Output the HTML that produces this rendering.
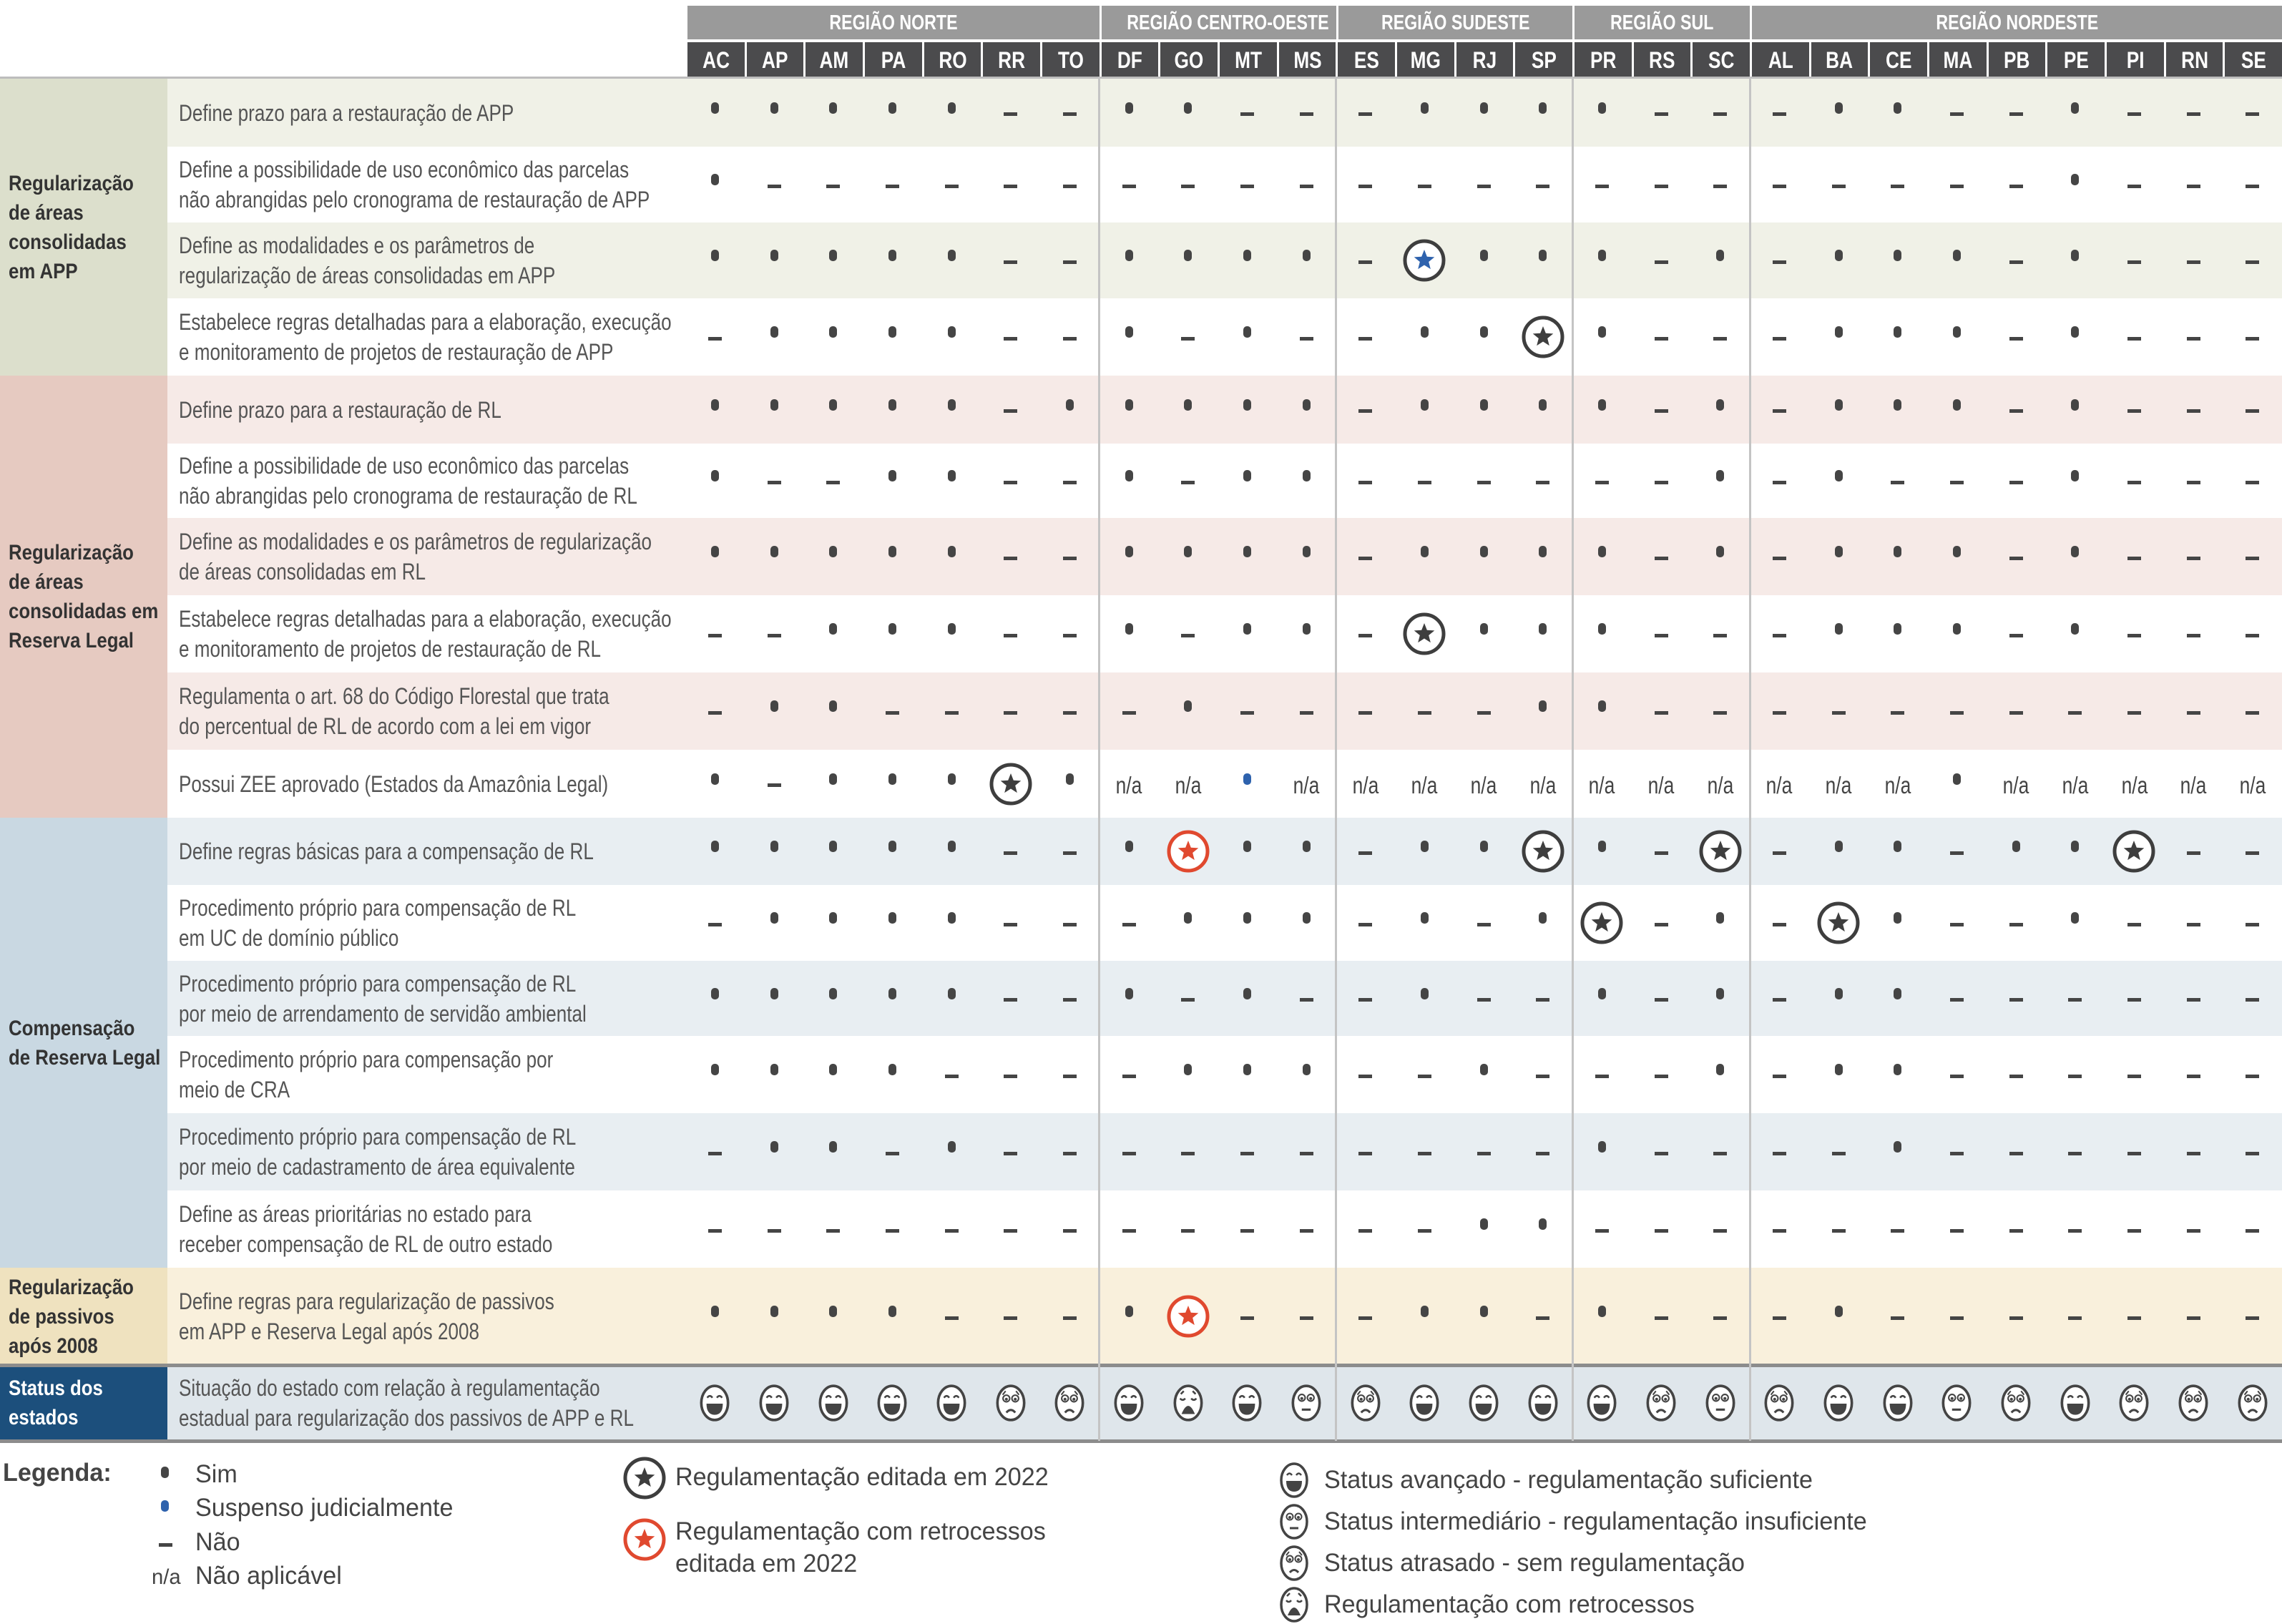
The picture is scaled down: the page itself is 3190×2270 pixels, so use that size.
<!DOCTYPE html>
<html><head><meta charset="utf-8"><style>
body{margin:0;width:3190px;height:2270px;position:relative;background:#fff;font-family:"Liberation Sans",sans-serif;overflow:hidden;color:#444}
.rg{position:absolute;top:8px;height:47px;background:#9a9a9a;color:#fff;font-weight:bold;font-size:29px;line-height:48px;text-align:center;border-left:3px solid #fff;box-sizing:border-box;white-space:nowrap}
.rg span{display:inline-block;transform:scaleX(.8)}
.sts{position:absolute;top:59px;height:49px;left:958px;right:0;display:flex}
.sts b{flex:1;background:#4b4b4d;color:#fff;font-size:32px;line-height:50px;text-align:center;border-left:3px solid #fff}
.sts b span{display:inline-block;transform:scaleX(.82)}
.row{position:absolute;left:234px;right:0}
.desc{position:absolute;left:16px;top:0;bottom:0;display:flex;align-items:center;font-size:32px;line-height:42px;color:#555;white-space:nowrap}
.desc span{display:block;transform:scaleX(.815);transform-origin:left center}
.c{position:absolute;left:724px;right:0;top:0;bottom:0;display:flex}
.c i{flex:1;display:flex;align-items:center;justify-content:center;font-style:normal}
.d::after{content:"";width:11px;height:16px;border-radius:5px;background:#454545;margin-top:-14px}
.m::after{content:"";width:19px;height:5px;background:#454545;margin-top:4px}
.u::after{background:#2e62ad}
.n{font-size:33px;color:#444;padding-top:4px}
.n span{display:inline-block;transform:scaleX(.8)}
svg.st{width:64px;height:64px}
svg.f{width:46px;height:56px}
.lab{position:absolute;left:0;width:234px;display:flex;align-items:center;font-weight:bold;font-size:30px;line-height:41px;color:#333;white-space:nowrap}
.lab span{display:block;transform:scaleX(.86);transform-origin:left center;margin-left:12px}
.vl{position:absolute;top:108px;height:1906px;width:3px;background:#c4c4c4}
.lg{position:absolute;font-size:35px;color:#444;white-space:nowrap;line-height:45px}
.lg span{display:inline-block;transform:scaleX(.975);transform-origin:left center}
</style></head><body>
<svg width="0" height="0" style="position:absolute">
<defs>
<g id="sd"><circle r="27" fill="#fff" stroke="#3e3e3e" stroke-width="5"/><path d="M0,-15 L3.82,-5.26 14.27,-4.64 6.18,2.01 8.82,12.14 0,6.5 -8.82,12.14 -6.18,2.01 -14.27,-4.64 -3.82,-5.26Z" fill="#3e3e3e"/></g>
<g id="sb"><circle r="27" fill="#fff" stroke="#3e3e3e" stroke-width="5"/><path d="M0,-15 L3.82,-5.26 14.27,-4.64 6.18,2.01 8.82,12.14 0,6.5 -8.82,12.14 -6.18,2.01 -14.27,-4.64 -3.82,-5.26Z" fill="#2e62ad"/></g>
<g id="sr"><circle r="27" fill="#fff" stroke="#e0492f" stroke-width="5"/><path d="M0,-15 L3.82,-5.26 14.27,-4.64 6.18,2.01 8.82,12.14 0,6.5 -8.82,12.14 -6.18,2.01 -14.27,-4.64 -3.82,-5.26Z" fill="#e0492f"/></g>
<g id="fa"><ellipse rx="18" ry="23" fill="#fff" stroke="#444" stroke-width="3.5"/><path d="M-10,-7 q3.5,-5 7,0 M3,-7 q3.5,-5 7,0" stroke="#444" stroke-width="2.5" fill="none"/><path d="M-11,1 h22 q0,15 -11,15 q-11,0 -11,-15z" fill="#444"/></g>
<g id="fi"><ellipse rx="18" ry="23" fill="#fff" stroke="#444" stroke-width="3.5"/><circle cx="-6" cy="-7" r="4.5" stroke="#444" stroke-width="2" fill="none"/><circle cx="6" cy="-7" r="4.5" stroke="#444" stroke-width="2" fill="none"/><circle cx="-6" cy="-6" r="2" fill="#444"/><circle cx="6" cy="-6" r="2" fill="#444"/><path d="M-6,9 h12" stroke="#444" stroke-width="3"/></g>
<g id="ft"><ellipse rx="18" ry="23" fill="#fff" stroke="#444" stroke-width="3.5"/><circle cx="-6" cy="-6" r="4.5" stroke="#444" stroke-width="2" fill="none"/><circle cx="6" cy="-6" r="4.5" stroke="#444" stroke-width="2" fill="none"/><circle cx="-6" cy="-5" r="2" fill="#444"/><circle cx="6" cy="-5" r="2" fill="#444"/><path d="M-11,-11 l4,-5 M11,-11 l-4,-5" stroke="#444" stroke-width="2"/><path d="M-6,13 q6,-7 12,0" stroke="#444" stroke-width="3" fill="none"/></g>
<g id="fr"><ellipse rx="18" ry="23" fill="#fff" stroke="#444" stroke-width="3.5"/><path d="M-11,-6 q3.5,4 7,0 M4,-6 q3.5,4 7,0 M-10,-12 l4,-4 M10,-12 l-4,-4" stroke="#444" stroke-width="2.5" fill="none"/><path d="M-9,15 q9,-22 18,0z" fill="#444"/></g>
</defs></svg>

<div class="rg" style="left:958px;width:579px"><span>REGIÃO NORTE</span></div>
<div class="rg" style="left:1537px;width:331px"><span>REGIÃO CENTRO-OESTE</span></div>
<div class="rg" style="left:1868px;width:330px"><span>REGIÃO SUDESTE</span></div>
<div class="rg" style="left:2198px;width:248px"><span>REGIÃO SUL</span></div>
<div class="rg" style="left:2446px;width:744px"><span>REGIÃO NORDESTE</span></div>
<div class="sts"><b><span>AC</span></b><b><span>AP</span></b><b><span>AM</span></b><b><span>PA</span></b><b><span>RO</span></b><b><span>RR</span></b><b><span>TO</span></b><b><span>DF</span></b><b><span>GO</span></b><b><span>MT</span></b><b><span>MS</span></b><b><span>ES</span></b><b><span>MG</span></b><b><span>RJ</span></b><b><span>SP</span></b><b><span>PR</span></b><b><span>RS</span></b><b><span>SC</span></b><b><span>AL</span></b><b><span>BA</span></b><b><span>CE</span></b><b><span>MA</span></b><b><span>PB</span></b><b><span>PE</span></b><b><span>PI</span></b><b><span>RN</span></b><b><span>SE</span></b></div>
<div style="position:absolute;left:0;right:0;top:107px;height:3px;background:#bdbdbd"></div>

<div class="lab" style="top:110px;height:415px;background:#dcdfcc"><span>Regularização<br>de áreas<br>consolidadas<br>em APP</span></div>
<div class="lab" style="top:525px;height:618px;background:#e6cac1"><span>Regularização<br>de áreas<br>consolidadas em<br>Reserva Legal</span></div>
<div class="lab" style="top:1143px;height:629px;background:#c9d8e2"><span>Compensação<br>de Reserva Legal</span></div>
<div class="lab" style="top:1772px;height:136px;background:#efe2bf"><span>Regularização<br>de passivos<br>após 2008</span></div>
<div class="lab" style="top:1908px;height:106px;background:#1c4f7c;color:#fff"><span>Status dos<br>estados</span></div>

<div class="row" style="top:110px;height:95px;background:#f0f1e7"><div class="desc"><span>Define prazo para a restauração de APP</span></div><div class="c"><i class=d></i><i class=d></i><i class=d></i><i class=d></i><i class=d></i><i class=m></i><i class=m></i><i class=d></i><i class=d></i><i class=m></i><i class=m></i><i class=m></i><i class=d></i><i class=d></i><i class=d></i><i class=d></i><i class=m></i><i class=m></i><i class=m></i><i class=d></i><i class=d></i><i class=m></i><i class=m></i><i class=d></i><i class=m></i><i class=m></i><i class=m></i></div></div>
<div class="row" style="top:205px;height:106px"><div class="desc"><span>Define a possibilidade de uso econômico das parcelas<br>não abrangidas pelo cronograma de restauração de APP</span></div><div class="c"><i class=d></i><i class=m></i><i class=m></i><i class=m></i><i class=m></i><i class=m></i><i class=m></i><i class=m></i><i class=m></i><i class=m></i><i class=m></i><i class=m></i><i class=m></i><i class=m></i><i class=m></i><i class=m></i><i class=m></i><i class=m></i><i class=m></i><i class=m></i><i class=m></i><i class=m></i><i class=m></i><i class=d></i><i class=m></i><i class=m></i><i class=m></i></div></div>
<div class="row" style="top:311px;height:106px;background:#f0f1e7"><div class="desc"><span>Define as modalidades e os parâmetros de<br>regularização de áreas consolidadas em APP</span></div><div class="c"><i class=d></i><i class=d></i><i class=d></i><i class=d></i><i class=d></i><i class=m></i><i class=m></i><i class=d></i><i class=d></i><i class=d></i><i class=d></i><i class=m></i><i><svg class=st viewBox="-32 -32 64 64"><use href="#sb"/></svg></i><i class=d></i><i class=d></i><i class=d></i><i class=m></i><i class=d></i><i class=m></i><i class=d></i><i class=d></i><i class=d></i><i class=m></i><i class=d></i><i class=m></i><i class=m></i><i class=m></i></div></div>
<div class="row" style="top:417px;height:108px"><div class="desc"><span>Estabelece regras detalhadas para a elaboração, execução<br>e monitoramento de projetos de restauração de APP</span></div><div class="c"><i class=m></i><i class=d></i><i class=d></i><i class=d></i><i class=d></i><i class=m></i><i class=m></i><i class=d></i><i class=m></i><i class=d></i><i class=m></i><i class=m></i><i class=d></i><i class=d></i><i><svg class=st viewBox="-32 -32 64 64"><use href="#sd"/></svg></i><i class=d></i><i class=m></i><i class=m></i><i class=m></i><i class=d></i><i class=d></i><i class=d></i><i class=m></i><i class=d></i><i class=m></i><i class=m></i><i class=m></i></div></div>

<div class="row" style="top:525px;height:95px;background:#f6eae7"><div class="desc"><span>Define prazo para a restauração de RL</span></div><div class="c"><i class=d></i><i class=d></i><i class=d></i><i class=d></i><i class=d></i><i class=m></i><i class=d></i><i class=d></i><i class=d></i><i class=d></i><i class=d></i><i class=m></i><i class=d></i><i class=d></i><i class=d></i><i class=d></i><i class=m></i><i class=d></i><i class=m></i><i class=d></i><i class=d></i><i class=d></i><i class=m></i><i class=d></i><i class=m></i><i class=m></i><i class=m></i></div></div>
<div class="row" style="top:620px;height:104px"><div class="desc"><span>Define a possibilidade de uso econômico das parcelas<br>não abrangidas pelo cronograma de restauração de RL</span></div><div class="c"><i class=d></i><i class=m></i><i class=m></i><i class=d></i><i class=d></i><i class=m></i><i class=m></i><i class=d></i><i class=m></i><i class=d></i><i class=d></i><i class=m></i><i class=m></i><i class=m></i><i class=m></i><i class=m></i><i class=m></i><i class=d></i><i class=m></i><i class=d></i><i class=m></i><i class=m></i><i class=m></i><i class=d></i><i class=m></i><i class=m></i><i class=m></i></div></div>
<div class="row" style="top:724px;height:108px;background:#f6eae7"><div class="desc"><span>Define as modalidades e os parâmetros de regularização<br>de áreas consolidadas em RL</span></div><div class="c"><i class=d></i><i class=d></i><i class=d></i><i class=d></i><i class=d></i><i class=m></i><i class=m></i><i class=d></i><i class=d></i><i class=d></i><i class=d></i><i class=m></i><i class=d></i><i class=d></i><i class=d></i><i class=d></i><i class=m></i><i class=d></i><i class=m></i><i class=d></i><i class=d></i><i class=d></i><i class=m></i><i class=d></i><i class=m></i><i class=m></i><i class=m></i></div></div>
<div class="row" style="top:832px;height:108px"><div class="desc"><span>Estabelece regras detalhadas para a elaboração, execução<br>e monitoramento de projetos de restauração de RL</span></div><div class="c"><i class=m></i><i class=m></i><i class=d></i><i class=d></i><i class=d></i><i class=m></i><i class=m></i><i class=d></i><i class=m></i><i class=d></i><i class=d></i><i class=m></i><i><svg class=st viewBox="-32 -32 64 64"><use href="#sd"/></svg></i><i class=d></i><i class=d></i><i class=d></i><i class=m></i><i class=m></i><i class=m></i><i class=d></i><i class=d></i><i class=d></i><i class=m></i><i class=d></i><i class=m></i><i class=m></i><i class=m></i></div></div>
<div class="row" style="top:940px;height:108px;background:#f6eae7"><div class="desc"><span>Regulamenta o art. 68 do Código Florestal que trata<br>do percentual de RL de acordo com a lei em vigor</span></div><div class="c"><i class=m></i><i class=d></i><i class=d></i><i class=m></i><i class=m></i><i class=m></i><i class=m></i><i class=m></i><i class=d></i><i class=m></i><i class=m></i><i class=m></i><i class=m></i><i class=m></i><i class=d></i><i class=d></i><i class=m></i><i class=m></i><i class=m></i><i class=m></i><i class=m></i><i class=m></i><i class=m></i><i class=m></i><i class=m></i><i class=m></i><i class=m></i></div></div>
<div class="row" style="top:1048px;height:95px"><div class="desc"><span>Possui ZEE aprovado (Estados da Amazônia Legal)</span></div><div class="c"><i class=d></i><i class=m></i><i class=d></i><i class=d></i><i class=d></i><i><svg class=st viewBox="-32 -32 64 64"><use href="#sd"/></svg></i><i class=d></i><i class=n><span>n/a</span></i><i class=n><span>n/a</span></i><i class="d u"></i><i class=n><span>n/a</span></i><i class=n><span>n/a</span></i><i class=n><span>n/a</span></i><i class=n><span>n/a</span></i><i class=n><span>n/a</span></i><i class=n><span>n/a</span></i><i class=n><span>n/a</span></i><i class=n><span>n/a</span></i><i class=n><span>n/a</span></i><i class=n><span>n/a</span></i><i class=n><span>n/a</span></i><i class=d></i><i class=n><span>n/a</span></i><i class=n><span>n/a</span></i><i class=n><span>n/a</span></i><i class=n><span>n/a</span></i><i class=n><span>n/a</span></i></div></div>

<div class="row" style="top:1143px;height:94px;background:#e8eef2"><div class="desc"><span>Define regras básicas para a compensação de RL</span></div><div class="c"><i class=d></i><i class=d></i><i class=d></i><i class=d></i><i class=d></i><i class=m></i><i class=m></i><i class=d></i><i><svg class=st viewBox="-32 -32 64 64"><use href="#sr"/></svg></i><i class=d></i><i class=d></i><i class=m></i><i class=d></i><i class=d></i><i><svg class=st viewBox="-32 -32 64 64"><use href="#sd"/></svg></i><i class=d></i><i class=m></i><i><svg class=st viewBox="-32 -32 64 64"><use href="#sd"/></svg></i><i class=m></i><i class=d></i><i class=d></i><i class=m></i><i class=d></i><i class=d></i><i><svg class=st viewBox="-32 -32 64 64"><use href="#sd"/></svg></i><i class=m></i><i class=m></i></div></div>
<div class="row" style="top:1237px;height:106px"><div class="desc"><span>Procedimento próprio para compensação de RL<br>em UC de domínio público</span></div><div class="c"><i class=m></i><i class=d></i><i class=d></i><i class=d></i><i class=d></i><i class=m></i><i class=m></i><i class=m></i><i class=d></i><i class=d></i><i class=d></i><i class=m></i><i class=d></i><i class=m></i><i class=d></i><i><svg class=st viewBox="-32 -32 64 64"><use href="#sd"/></svg></i><i class=m></i><i class=d></i><i class=m></i><i><svg class=st viewBox="-32 -32 64 64"><use href="#sd"/></svg></i><i class=d></i><i class=m></i><i class=m></i><i class=d></i><i class=m></i><i class=m></i><i class=m></i></div></div>
<div class="row" style="top:1343px;height:105px;background:#e8eef2"><div class="desc"><span>Procedimento próprio para compensação de RL<br>por meio de arrendamento de servidão ambiental</span></div><div class="c"><i class=d></i><i class=d></i><i class=d></i><i class=d></i><i class=d></i><i class=m></i><i class=m></i><i class=d></i><i class=m></i><i class=d></i><i class=m></i><i class=m></i><i class=d></i><i class=m></i><i class=m></i><i class=d></i><i class=m></i><i class=d></i><i class=m></i><i class=d></i><i class=d></i><i class=m></i><i class=m></i><i class=m></i><i class=m></i><i class=m></i><i class=m></i></div></div>
<div class="row" style="top:1448px;height:108px"><div class="desc"><span>Procedimento próprio para compensação por<br>meio de CRA</span></div><div class="c"><i class=d></i><i class=d></i><i class=d></i><i class=d></i><i class=m></i><i class=m></i><i class=m></i><i class=m></i><i class=d></i><i class=d></i><i class=d></i><i class=m></i><i class=m></i><i class=d></i><i class=m></i><i class=m></i><i class=m></i><i class=d></i><i class=m></i><i class=d></i><i class=d></i><i class=m></i><i class=m></i><i class=m></i><i class=m></i><i class=m></i><i class=m></i></div></div>
<div class="row" style="top:1556px;height:108px;background:#e8eef2"><div class="desc"><span>Procedimento próprio para compensação de RL<br>por meio de cadastramento de área equivalente</span></div><div class="c"><i class=m></i><i class=d></i><i class=d></i><i class=m></i><i class=d></i><i class=m></i><i class=m></i><i class=m></i><i class=m></i><i class=m></i><i class=m></i><i class=m></i><i class=m></i><i class=m></i><i class=m></i><i class=d></i><i class=m></i><i class=m></i><i class=m></i><i class=m></i><i class=d></i><i class=m></i><i class=m></i><i class=m></i><i class=m></i><i class=m></i><i class=m></i></div></div>
<div class="row" style="top:1664px;height:108px"><div class="desc"><span>Define as áreas prioritárias no estado para<br>receber compensação de RL de outro estado</span></div><div class="c"><i class=m></i><i class=m></i><i class=m></i><i class=m></i><i class=m></i><i class=m></i><i class=m></i><i class=m></i><i class=m></i><i class=m></i><i class=m></i><i class=m></i><i class=m></i><i class=d></i><i class=d></i><i class=m></i><i class=m></i><i class=m></i><i class=m></i><i class=m></i><i class=m></i><i class=m></i><i class=m></i><i class=m></i><i class=m></i><i class=m></i><i class=m></i></div></div>

<div class="row" style="top:1772px;height:136px;background:#f9f0dc"><div class="desc"><span>Define regras para regularização de passivos<br>em APP e Reserva Legal após 2008</span></div><div class="c"><i class=d></i><i class=d></i><i class=d></i><i class=d></i><i class=m></i><i class=m></i><i class=m></i><i class=d></i><i><svg class=st viewBox="-32 -32 64 64"><use href="#sr"/></svg></i><i class=m></i><i class=m></i><i class=m></i><i class=d></i><i class=d></i><i class=m></i><i class=d></i><i class=m></i><i class=m></i><i class=m></i><i class=d></i><i class=m></i><i class=m></i><i class=m></i><i class=m></i><i class=m></i><i class=m></i><i class=m></i></div></div>

<div class="row" style="top:1908px;height:106px;background:#dfe6eb"><div class="desc"><span>Situação do estado com relação à regulamentação<br>estadual para regularização dos passivos de APP e RL</span></div><div class="c">
<i><svg class=f viewBox="-22 -27 44 54"><use href="#fa"/></svg></i><i><svg class=f viewBox="-22 -27 44 54"><use href="#fa"/></svg></i><i><svg class=f viewBox="-22 -27 44 54"><use href="#fa"/></svg></i><i><svg class=f viewBox="-22 -27 44 54"><use href="#fa"/></svg></i><i><svg class=f viewBox="-22 -27 44 54"><use href="#fa"/></svg></i><i><svg class=f viewBox="-22 -27 44 54"><use href="#ft"/></svg></i><i><svg class=f viewBox="-22 -27 44 54"><use href="#ft"/></svg></i>
<i><svg class=f viewBox="-22 -27 44 54"><use href="#fa"/></svg></i><i><svg class=f viewBox="-22 -27 44 54"><use href="#fr"/></svg></i><i><svg class=f viewBox="-22 -27 44 54"><use href="#fa"/></svg></i><i><svg class=f viewBox="-22 -27 44 54"><use href="#fi"/></svg></i>
<i><svg class=f viewBox="-22 -27 44 54"><use href="#ft"/></svg></i><i><svg class=f viewBox="-22 -27 44 54"><use href="#fa"/></svg></i><i><svg class=f viewBox="-22 -27 44 54"><use href="#fa"/></svg></i><i><svg class=f viewBox="-22 -27 44 54"><use href="#fa"/></svg></i>
<i><svg class=f viewBox="-22 -27 44 54"><use href="#fa"/></svg></i><i><svg class=f viewBox="-22 -27 44 54"><use href="#ft"/></svg></i><i><svg class=f viewBox="-22 -27 44 54"><use href="#fi"/></svg></i>
<i><svg class=f viewBox="-22 -27 44 54"><use href="#ft"/></svg></i><i><svg class=f viewBox="-22 -27 44 54"><use href="#fa"/></svg></i><i><svg class=f viewBox="-22 -27 44 54"><use href="#fa"/></svg></i><i><svg class=f viewBox="-22 -27 44 54"><use href="#fi"/></svg></i><i><svg class=f viewBox="-22 -27 44 54"><use href="#ft"/></svg></i><i><svg class=f viewBox="-22 -27 44 54"><use href="#fa"/></svg></i><i><svg class=f viewBox="-22 -27 44 54"><use href="#ft"/></svg></i><i><svg class=f viewBox="-22 -27 44 54"><use href="#ft"/></svg></i><i><svg class=f viewBox="-22 -27 44 54"><use href="#ft"/></svg></i>
</div></div>
<div style="position:absolute;left:0;right:0;top:1906px;height:5px;background:#8c8c8c"></div>
<div style="position:absolute;left:0;right:0;top:2012px;height:5px;background:#8c8c8c"></div>

<div class="vl" style="left:1535px"></div>
<div class="vl" style="left:1866px"></div>
<div class="vl" style="left:2197px"></div>
<div class="vl" style="left:2445px"></div>

<div class="lg" style="left:4px;top:2036px;font-weight:bold"><span>Legenda:</span></div>
<div style="position:absolute;left:225px;top:2050px;width:11px;height:16px;border-radius:5px;background:#454545"></div>
<div class="lg" style="left:273px;top:2038px"><span>Sim</span></div>
<div style="position:absolute;left:225px;top:2097px;width:11px;height:16px;border-radius:5px;background:#2e62ad"></div>
<div class="lg" style="left:273px;top:2085px"><span>Suspenso judicialmente</span></div>
<div style="position:absolute;left:222px;top:2157px;width:19px;height:5px;background:#454545"></div>
<div class="lg" style="left:273px;top:2133px"><span>Não</span></div>
<div class="lg" style="left:212px;top:2182px;font-size:30px"><span>n/a</span></div>
<div class="lg" style="left:273px;top:2180px"><span>Não aplicável</span></div>

<svg style="position:absolute;left:869px;top:2034px" width="64" height="64" viewBox="-32 -32 64 64"><use href="#sd"/></svg>
<div class="lg" style="left:944px;top:2042px"><span>Regulamentação editada em 2022</span></div>
<svg style="position:absolute;left:869px;top:2120px" width="64" height="64" viewBox="-32 -32 64 64"><use href="#sr"/></svg>
<div class="lg" style="left:944px;top:2118px"><span>Regulamentação com retrocessos<br>editada em 2022</span></div>

<svg style="position:absolute;left:1787px;top:2042px" width="44" height="54" viewBox="-22 -27 44 54"><use href="#fa"/></svg>
<div class="lg" style="left:1851px;top:2046px"><span>Status avançado - regulamentação suficiente</span></div>
<svg style="position:absolute;left:1787px;top:2100px" width="44" height="54" viewBox="-22 -27 44 54"><use href="#fi"/></svg>
<div class="lg" style="left:1851px;top:2104px"><span>Status intermediário - regulamentação insuficiente</span></div>
<svg style="position:absolute;left:1787px;top:2158px" width="44" height="54" viewBox="-22 -27 44 54"><use href="#ft"/></svg>
<div class="lg" style="left:1851px;top:2162px"><span>Status atrasado - sem regulamentação</span></div>
<svg style="position:absolute;left:1787px;top:2216px" width="44" height="54" viewBox="-22 -27 44 54"><use href="#fr"/></svg>
<div class="lg" style="left:1851px;top:2220px"><span>Regulamentação com retrocessos</span></div>
</body></html>
